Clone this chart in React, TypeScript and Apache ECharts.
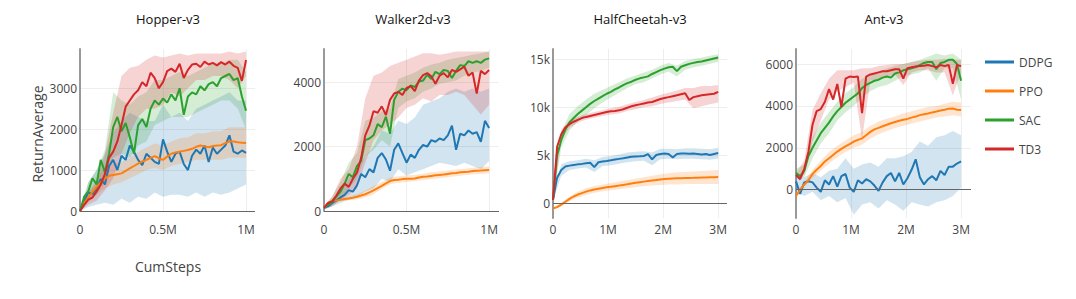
import React, { useEffect, useRef } from 'react';
import * as echarts from 'echarts';

// ---------- data ----------
const ALGOS = ['DDPG', 'PPO', 'SAC', 'TD3'];
const COLORS = ['#1f77b4', '#ff7f0e', '#2ca02c', '#d62728'];
const BAND_COLORS = ['rgba(31,119,180,0.2)', 'rgba(255,127,14,0.2)', 'rgba(44,160,44,0.2)', 'rgba(214,39,40,0.2)'];
const ENV_TITLES = ['Hopper-v3', 'Walker2d-v3', 'HalfCheetah-v3', 'Ant-v3'];

// CumSteps (millions)
const STEPS_1M = [0, 0.025, 0.05, 0.075, 0.1, 0.125, 0.15, 0.175, 0.2, 0.225, 0.25, 0.275, 0.3, 0.325, 0.35, 0.375, 0.4, 0.425, 0.45, 0.475, 0.5, 0.525, 0.55, 0.575, 0.6, 0.625, 0.65, 0.675, 0.7, 0.725, 0.75, 0.775, 0.8, 0.825, 0.85, 0.875, 0.9, 0.925, 0.95, 0.975, 1];
const BAND_STEPS_1M = [0, 0.05, 0.1, 0.15, 0.2, 0.25, 0.3, 0.35, 0.4, 0.45, 0.5, 0.55, 0.6, 0.65, 0.7, 0.75, 0.8, 0.85, 0.9, 0.95, 1];
const STEPS_3M = [0, 0.075, 0.15, 0.225, 0.3, 0.375, 0.45, 0.525, 0.6, 0.675, 0.75, 0.825, 0.9, 0.975, 1.05, 1.125, 1.2, 1.275, 1.35, 1.425, 1.5, 1.575, 1.65, 1.725, 1.8, 1.875, 1.95, 2.025, 2.1, 2.175, 2.25, 2.325, 2.4, 2.475, 2.55, 2.625, 2.7, 2.775, 2.85, 2.925, 3];
const BAND_STEPS_3M = [0, 0.15, 0.3, 0.45, 0.6, 0.75, 0.9, 1.05, 1.2, 1.35, 1.5, 1.65, 1.8, 1.95, 2.1, 2.25, 2.4, 2.55, 2.7, 2.85, 3];

// Hopper-v3
const HOPPER_DDPG = [0, 250, 450, 420, 550, 780, 650, 1100, 1250, 1000, 1350, 1250, 1600, 1450, 1250, 1120, 1400, 1300, 1200, 1150, 1750, 1450, 1200, 1400, 1450, 1150, 1000, 1350, 1500, 1400, 1600, 1200, 1550, 1400, 1500, 1600, 1850, 1450, 1400, 1480, 1420];
const HOPPER_DDPG_LO = [0, 100, 150, 200, 150, 300, 200, 350, 300, 450, 350, 400, 400, 350, 450, 350, 450, 400, 450, 550, 650];
const HOPPER_DDPG_HI = [0, 700, 1000, 1400, 1900, 2200, 2400, 2300, 2200, 2200, 2600, 2300, 2400, 2200, 2500, 2600, 2700, 2800, 2900, 2700, 2700];
const HOPPER_PPO = [0, 200, 330, 470, 590, 700, 790, 860, 880, 900, 920, 980, 1040, 1100, 1160, 1210, 1250, 1300, 1340, 1290, 1250, 1330, 1400, 1430, 1450, 1470, 1490, 1520, 1570, 1600, 1580, 1560, 1590, 1600, 1610, 1660, 1700, 1700, 1680, 1670, 1660];
const HOPPER_PPO_LO = [0, 200, 400, 550, 650, 700, 800, 900, 1000, 1050, 1000, 1100, 1150, 1200, 1250, 1250, 1250, 1250, 1300, 1300, 1300];
const HOPPER_PPO_HI = [0, 450, 800, 1050, 1150, 1200, 1300, 1450, 1550, 1650, 1600, 1700, 1780, 1800, 1900, 1900, 1950, 1950, 2050, 2050, 2050];
const HOPPER_SAC = [0, 350, 480, 800, 650, 1250, 950, 1400, 2050, 2300, 1950, 2150, 1800, 1400, 2100, 2250, 2050, 2500, 2700, 2600, 2750, 2650, 2850, 2700, 3000, 2350, 2800, 2900, 2850, 3050, 2950, 3100, 3150, 3050, 3250, 3300, 3350, 3200, 3250, 2800, 2450];
const HOPPER_SAC_LO = [0, 250, 400, 700, 1300, 1400, 1300, 1600, 1700, 2100, 2200, 2300, 2300, 2300, 2400, 2500, 2600, 2700, 2700, 2500, 2000];
const HOPPER_SAC_HI = [0, 700, 1000, 1500, 2900, 2700, 2600, 2800, 2900, 3200, 3200, 3300, 3400, 3300, 3400, 3500, 3600, 3600, 3700, 3700, 3400];
const HOPPER_TD3 = [0, 150, 280, 330, 480, 650, 900, 1300, 1450, 1700, 2100, 2550, 2700, 2850, 2950, 3150, 3050, 3380, 3250, 3000, 3150, 3420, 3480, 3400, 3600, 3250, 3450, 3580, 3600, 3520, 3650, 3580, 3620, 3560, 3640, 3580, 3650, 3550, 3500, 3180, 3690];
const HOPPER_TD3_LO = [0, 150, 250, 500, 800, 1400, 1900, 2300, 2500, 2500, 2600, 2900, 2800, 3000, 3200, 3200, 3300, 3300, 3200, 3000, 3300];
const HOPPER_TD3_HI = [0, 450, 700, 1400, 2400, 3300, 3500, 3550, 3700, 3800, 3750, 3800, 3850, 3800, 3850, 3850, 3850, 3850, 3900, 3850, 3900];

// Walker2d-v3
const WALKER_DDPG = [100, 150, 250, 330, 420, 500, 650, 600, 800, 1150, 1050, 1300, 1200, 1650, 1800, 1600, 1250, 1900, 2100, 1800, 1500, 1750, 1650, 1900, 2050, 2000, 2200, 2150, 2250, 2200, 2350, 2650, 1900, 2400, 2350, 2500, 2400, 2450, 2150, 2800, 2580];
const WALKER_DDPG_LO = [50, 150, 250, 350, 450, 600, 700, 1000, 900, 1300, 1100, 1200, 1300, 1400, 1500, 1450, 1400, 1500, 1400, 1300, 1550];
const WALKER_DDPG_HI = [150, 350, 600, 1000, 1300, 1700, 2000, 2500, 2400, 2800, 2700, 2900, 3300, 3400, 3500, 3700, 3800, 3700, 3800, 3700, 3800];
const WALKER_PPO = [100, 250, 310, 330, 350, 370, 390, 410, 440, 480, 520, 580, 640, 710, 780, 860, 930, 960, 970, 990, 1000, 1000, 1010, 1040, 1060, 1070, 1090, 1110, 1120, 1130, 1150, 1170, 1180, 1200, 1210, 1220, 1240, 1250, 1255, 1265, 1270];
const WALKER_PPO_LO = [50, 250, 300, 330, 360, 420, 520, 680, 830, 880, 900, 920, 960, 990, 1020, 1050, 1080, 1110, 1140, 1150, 1170];
const WALKER_PPO_HI = [150, 370, 410, 460, 530, 640, 780, 900, 1050, 1080, 1110, 1120, 1160, 1200, 1230, 1260, 1290, 1310, 1340, 1370, 1390];
const WALKER_SAC = [100, 200, 280, 450, 600, 850, 1150, 1050, 1400, 1550, 2200, 2250, 2350, 2700, 2600, 2930, 2400, 3450, 3700, 3800, 3750, 3900, 3850, 4020, 4050, 4230, 4100, 4320, 4250, 4380, 4350, 4130, 4350, 4530, 4500, 4650, 4600, 4650, 4600, 4700, 4740];
const WALKER_SAC_LO = [50, 150, 350, 700, 1000, 1700, 1900, 2200, 2000, 3200, 3400, 3500, 3700, 3800, 3950, 4000, 4050, 4200, 4300, 4350, 4450];
const WALKER_SAC_HI = [150, 450, 900, 1500, 1800, 2800, 2900, 3100, 3200, 4100, 4200, 4300, 4450, 4550, 4600, 4700, 4750, 4800, 4850, 4900, 4950];
const WALKER_TD3 = [100, 250, 300, 480, 700, 850, 750, 1000, 1200, 1650, 2350, 2650, 3100, 3050, 3250, 2980, 3450, 3650, 3700, 3600, 3820, 3880, 3720, 4050, 4220, 4280, 4180, 3950, 4200, 4280, 4150, 4380, 4320, 4400, 4480, 4200, 4300, 3650, 4350, 4250, 4380];
const WALKER_TD3_LO = [50, 150, 350, 500, 700, 1500, 2200, 2500, 2700, 2900, 3200, 3300, 3500, 3400, 3600, 3600, 3700, 3600, 3300, 3000, 3300];
const WALKER_TD3_HI = [150, 450, 1000, 1300, 2000, 3500, 4200, 4300, 4500, 4600, 4700, 4800, 4900, 4900, 4850, 4900, 4950, 4950, 4950, 4950, 4950];

// HalfCheetah-v3
const CHEETAH_DDPG = [400, 2700, 3500, 3850, 3950, 4020, 4080, 4130, 4200, 4250, 3800, 4300, 4380, 4430, 4500, 4580, 4650, 4720, 4800, 4880, 4900, 4920, 4950, 5150, 4600, 5050, 5150, 5200, 5150, 4800, 5150, 5200, 5200, 5180, 5200, 5150, 5100, 5150, 5050, 5150, 5250];
const CHEETAH_DDPG_LO = [300, 2900, 3500, 3650, 3750, 3300, 3900, 4000, 4150, 4300, 4400, 4450, 4000, 4600, 4650, 4600, 4650, 4650, 4600, 4550, 4700];
const CHEETAH_DDPG_HI = [500, 4100, 4400, 4500, 4650, 4500, 4850, 4950, 5100, 5300, 5400, 5450, 5300, 5700, 5700, 5650, 5750, 5750, 5700, 5650, 5800];
const CHEETAH_PPO = [-500, -350, -100, 200, 500, 750, 950, 1100, 1250, 1380, 1480, 1560, 1640, 1700, 1760, 1820, 1880, 1950, 2020, 2100, 2170, 2230, 2290, 2350, 2400, 2450, 2520, 2560, 2590, 2610, 2630, 2640, 2660, 2670, 2680, 2700, 2710, 2720, 2740, 2750, 2760];
const CHEETAH_PPO_LO = [-600, -300, 250, 650, 900, 1150, 1300, 1400, 1500, 1600, 1700, 1800, 1900, 1950, 2000, 2000, 2050, 2050, 2050, 2050, 2050];
const CHEETAH_PPO_HI = [-400, 100, 750, 1250, 1600, 1850, 2000, 2150, 2300, 2450, 2600, 2750, 2900, 3050, 3150, 3250, 3300, 3350, 3400, 3450, 3500];
const CHEETAH_SAC = [400, 5000, 6600, 7700, 8450, 8880, 9300, 9650, 10000, 10350, 10650, 10900, 11150, 11400, 11600, 11850, 12050, 12300, 12500, 12650, 12850, 13000, 13100, 13200, 13450, 13650, 13850, 14000, 14150, 14200, 13750, 14200, 14350, 14500, 14600, 14700, 14750, 14850, 14950, 15050, 15150];
const CHEETAH_SAC_LO = [300, 5800, 7600, 8500, 9200, 9900, 10500, 11000, 11500, 12000, 12400, 12600, 13000, 13400, 13700, 13200, 13900, 14150, 14300, 14500, 14700];
const CHEETAH_SAC_HI = [500, 7400, 9300, 10100, 10800, 11400, 11800, 12200, 12600, 13000, 13300, 13600, 13900, 14300, 14600, 14300, 14800, 15000, 15150, 15350, 15500];
const CHEETAH_TD3 = [400, 5900, 7200, 7900, 8250, 8500, 8700, 8880, 9000, 9100, 9200, 9300, 9400, 9500, 9580, 9620, 9680, 9800, 9950, 10100, 10200, 10300, 10400, 10500, 10550, 10700, 10850, 10950, 11050, 11150, 11250, 11350, 11450, 10750, 11050, 11150, 11250, 11300, 11350, 11400, 11600];
const CHEETAH_TD3_LO = [300, 6600, 7900, 8400, 8700, 8900, 9100, 9250, 9350, 9600, 9800, 10000, 10100, 10350, 10500, 10650, 10800, 9900, 10100, 10300, 10500];
const CHEETAH_TD3_HI = [500, 7700, 8600, 9000, 9300, 9500, 9700, 9900, 10050, 10300, 10550, 10750, 11000, 11300, 11500, 11750, 12000, 12000, 12200, 12200, 12300];

// Ant-v3
const ANT_DDPG = [400, -200, 350, 400, 350, 100, -100, 450, 250, 650, 150, 650, 750, 100, -100, 450, 300, 500, 400, 200, -50, 350, 650, 800, 400, 800, 250, 550, 950, 1450, 600, 250, 500, 650, 450, 900, 700, 1100, 1100, 1250, 1350];
const ANT_DDPG_LO = [-100, -300, -100, -500, -300, -600, -400, -1200, -700, -600, -900, -500, -700, -1000, -600, -700, -800, -600, -500, -300, 100];
const ANT_DDPG_HI = [800, 600, 800, 600, 900, 1000, 1500, 1000, 1200, 1300, 1100, 1500, 1500, 1600, 1800, 2300, 2100, 2500, 2600, 2800, 2600];
const ANT_PPO = [-300, 0, 250, 450, 750, 950, 1130, 1350, 1500, 1660, 1820, 1950, 2070, 2180, 2300, 2380, 2450, 2600, 2760, 2880, 2950, 3030, 3100, 3170, 3230, 3290, 3340, 3380, 3440, 3490, 3560, 3600, 3640, 3690, 3730, 3780, 3820, 3870, 3880, 3820, 3810];
const ANT_PPO_LO = [-400, 100, 550, 900, 1250, 1550, 1800, 2000, 2150, 2450, 2650, 2800, 2950, 3050, 3150, 3250, 3350, 3450, 3500, 3550, 3500];
const ANT_PPO_HI = [-200, 400, 950, 1400, 1800, 2100, 2350, 2600, 2750, 3050, 3250, 3400, 3500, 3650, 3750, 3850, 3950, 4000, 4100, 4200, 4150];
const ANT_SAC = [800, 650, 900, 1600, 2000, 2350, 2700, 2950, 3200, 3500, 3750, 3950, 4150, 4300, 4450, 4600, 4850, 5000, 5100, 5200, 5250, 5350, 5400, 5350, 5550, 5600, 5700, 5750, 5800, 5850, 5950, 6050, 6100, 6100, 5750, 6050, 6100, 6200, 6200, 6000, 5200];
const ANT_SAC_LO = [600, 600, 1500, 2200, 2700, 3300, 3700, 4000, 4400, 4700, 4900, 5000, 5200, 5400, 5500, 5600, 5800, 5200, 5800, 5800, 4300];
const ANT_SAC_HI = [1000, 1200, 2500, 3200, 3700, 4200, 4600, 4900, 5300, 5500, 5600, 5800, 5900, 6000, 6100, 6200, 6350, 6500, 6400, 6500, 6200];
const ANT_TD3 = [700, 500, 1000, 1800, 3100, 3750, 3850, 4200, 4800, 4300, 5050, 3950, 5300, 5400, 5380, 5400, 3650, 5400, 5500, 5550, 5600, 5650, 5650, 5700, 5750, 5750, 5300, 5800, 5850, 5880, 5900, 5920, 5950, 5900, 5850, 5950, 5900, 5950, 5050, 5950, 5900];
const ANT_TD3_LO = [600, 700, 2300, 3300, 4300, 4700, 4900, 5100, 2400, 5200, 5300, 5400, 5500, 5000, 5600, 5700, 5700, 5600, 5600, 4500, 5600];
const ANT_TD3_HI = [800, 1400, 3800, 4600, 5300, 5700, 5700, 5700, 5800, 5800, 5900, 5950, 6000, 6000, 6100, 6150, 6200, 6200, 6250, 6200, 6200];

// tick settings per panel
const X_MAX = [1.054, 1.06, 3.16, 3.18];
const X_INTERVAL = [0.5, 0.5, 1, 1];
const Y_MIN = [0, 0, -1480, -1350];
const Y_MAX = [3960, 5030, 16040, 6716];
const Y_STEP = [1000, 2000, 5000, 2000];

const ENVS = [
  { steps: STEPS_1M, bandSteps: BAND_STEPS_1M, mean: [HOPPER_DDPG, HOPPER_PPO, HOPPER_SAC, HOPPER_TD3], lo: [HOPPER_DDPG_LO, HOPPER_PPO_LO, HOPPER_SAC_LO, HOPPER_TD3_LO], hi: [HOPPER_DDPG_HI, HOPPER_PPO_HI, HOPPER_SAC_HI, HOPPER_TD3_HI] },
  { steps: STEPS_1M, bandSteps: BAND_STEPS_1M, mean: [WALKER_DDPG, WALKER_PPO, WALKER_SAC, WALKER_TD3], lo: [WALKER_DDPG_LO, WALKER_PPO_LO, WALKER_SAC_LO, WALKER_TD3_LO], hi: [WALKER_DDPG_HI, WALKER_PPO_HI, WALKER_SAC_HI, WALKER_TD3_HI] },
  { steps: STEPS_3M, bandSteps: BAND_STEPS_3M, mean: [CHEETAH_DDPG, CHEETAH_PPO, CHEETAH_SAC, CHEETAH_TD3], lo: [CHEETAH_DDPG_LO, CHEETAH_PPO_LO, CHEETAH_SAC_LO, CHEETAH_TD3_LO], hi: [CHEETAH_DDPG_HI, CHEETAH_PPO_HI, CHEETAH_SAC_HI, CHEETAH_TD3_HI] },
  { steps: STEPS_3M, bandSteps: BAND_STEPS_3M, mean: [ANT_DDPG, ANT_PPO, ANT_SAC, ANT_TD3], lo: [ANT_DDPG_LO, ANT_PPO_LO, ANT_SAC_LO, ANT_TD3_LO], hi: [ANT_DDPG_HI, ANT_PPO_HI, ANT_SAC_HI, ANT_TD3_HI] },
];

// ---------- layout ----------
const FONT = '"Open Sans", "Noto Sans", sans-serif';
const GRIDS = [
  { left: 80, top: 49, width: 175, height: 162 },
  { left: 324, top: 49, width: 175, height: 162 },
  { left: 553, top: 49, width: 174, height: 169 },
  { left: 796, top: 49, width: 175, height: 169 },
];
const TITLE_X = [163, 408, 635, 879];

function fmtX(v: number) {
  return v === 0 ? '0' : `${v}M`;
}

function buildOption() {
  const series: any[] = [];
  ENVS.forEach((env, g) => {
    ALGOS.forEach((algo, a) => {
      const band = env.bandSteps.map((x, i) => [x, env.lo[a][i], env.hi[a][i]]);
      series.push({
        type: 'custom',
        name: `${algo} band ${g}`,
        xAxisIndex: g,
        yAxisIndex: g,
        silent: true,
        clip: true,
        encode: { x: 0, y: [1, 2] },
        data: band,
        renderItem: (params: any, api: any) => {
          if (params.dataIndex !== 0) return null;
          const top = band.map((d) => api.coord([d[0], d[2]]));
          const bottom = band.map((d) => api.coord([d[0], d[1]])).reverse();
          return {
            type: 'polygon',
            silent: true,
            shape: { points: top.concat(bottom) },
            style: { fill: BAND_COLORS[a], stroke: 'none' },
          };
        },
      });
      const line: any = {
        type: 'line',
        name: algo,
        xAxisIndex: g,
        yAxisIndex: g,
        color: COLORS[a],
        showSymbol: false,
        symbol: 'none',
        lineStyle: { width: 2, color: COLORS[a] },
        emphasis: { disabled: true },
        data: env.steps.map((x, i) => [x, env.mean[a][i]]),
      };
      if (a === 0) {
        line.markLine = {
          silent: true,
          symbol: 'none',
          label: { show: false },
          lineStyle: { color: '#666', width: 1, type: 'solid' },
          data: [{ yAxis: 0 }],
        };
      }
      series.push(line);
    });
  });

  const xAxis = GRIDS.map((_, g) => ({
    type: 'value',
    gridIndex: g,
    min: 0,
    max: X_MAX[g],
    interval: X_INTERVAL[g],
    axisLine: { show: false },
    axisTick: { show: false },
    axisLabel: {
      color: '#444',
      fontSize: 12,
      fontFamily: FONT,
      margin: g < 2 ? 12 : 5,
      showMaxLabel: false,
      formatter: (v: number) => (Math.abs(v / X_INTERVAL[g] - Math.round(v / X_INTERVAL[g])) < 1e-6 ? fmtX(v) : ''),
    },
    splitLine: { show: true, showMaxLine: false, lineStyle: { color: '#eee', width: 1 } },
  }));

  const yAxis = GRIDS.map((_, g) => ({
    type: 'value',
    gridIndex: g,
    min: Y_MIN[g],
    max: Y_MAX[g],
    ...(Y_MIN[g] === 0 ? { interval: Y_STEP[g] } : { splitNumber: 4 }),
    axisLine: { show: true, onZero: false, lineStyle: { color: '#999', width: 2 } },
    axisTick: { show: false },
    axisLabel: {
      color: '#444',
      fontSize: 12,
      fontFamily: FONT,
      margin: 3,
      showMaxLabel: false,
      showMinLabel: Y_MIN[g] === 0,
      formatter: (v: number) => {
        if (Math.abs(v % Y_STEP[g]) > 1e-6) return '';
        if (g === 2) return v === 0 ? '0' : `${v / 1000}k`;
        return String(v);
      },
    },
    splitLine: { show: true, showMaxLine: false, showMinLine: false, lineStyle: { color: '#eee', width: 1 } },
  }));

  return {
    animation: false,
    backgroundColor: '#fff',
    color: COLORS,
    textStyle: { fontFamily: FONT },
    title: ENV_TITLES.map((t, g) => ({
      text: t,
      left: TITLE_X[g],
      top: 7,
      textAlign: 'center',
      textStyle: { fontSize: 13, fontWeight: 'normal', color: '#111', fontFamily: FONT },
    })),
    legend: {
      data: ALGOS,
      orient: 'vertical',
      left: 980,
      top: 50,
      icon: 'rect',
      itemWidth: 29,
      itemHeight: 3,
      itemGap: 15,
      textStyle: { fontSize: 12, color: '#444', fontFamily: FONT, lineHeight: 14 },
      selectedMode: false,
    },
    grid: GRIDS.map((gr) => ({ ...gr, containLabel: false })),
    xAxis,
    yAxis,
    graphic: [
      {
        type: 'text',
        x: 37,
        y: 134,
        rotation: Math.PI / 2,
        style: { text: 'ReturnAverage', fontSize: 14, fill: '#444', fontFamily: FONT, align: 'center', verticalAlign: 'middle' },
      },
      {
        type: 'text',
        x: 168,
        y: 266,
        style: { text: 'CumSteps', fontSize: 14, fill: '#444', fontFamily: FONT, align: 'center', verticalAlign: 'middle' },
      },
    ],
    series,
  };
}

export default function App() {
  const ref = useRef<HTMLDivElement>(null);
  useEffect(() => {
    if (!ref.current) return;
    const chart = echarts.init(ref.current, undefined, { renderer: 'svg' });
    chart.setOption(buildOption() as any);
    return () => chart.dispose();
  }, []);
  return (
    <div
      ref={ref}
      style={{ position: 'absolute', left: 0, top: 0, width: 1076, height: 299, background: '#fff' }}
    />
  );
}
